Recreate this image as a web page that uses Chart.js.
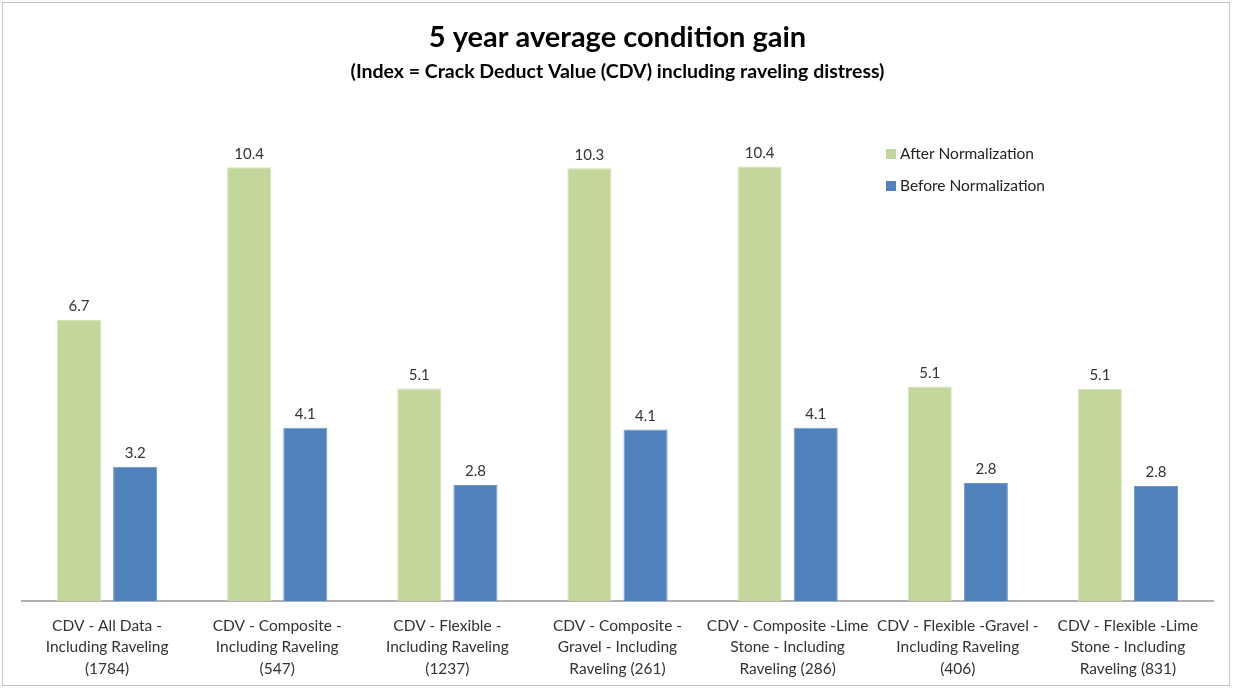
<!DOCTYPE html>
<html lang="en">
<head>
    <meta charset="UTF-8">
    <script src="https://cdn.jsdelivr.net/npm/chart.js"></script>
    <title>5 year average condition gain</title>
    <style>
        body {
            margin: 0;
            padding: 0;
            background-color: #fff;
        }
        #wrap {
            position: relative;
            width: 1233px;
            height: 689px;
        }
        #frame {
            position: absolute;
            left: 2px;
            top: 2px;
            width: 1226px;
            height: 682px;
            border: 1px solid #c4c4c4;
            pointer-events: none;
        }
    </style>
</head>
<body>
    <div id="wrap">
        <canvas id="gainChart" width="1233" height="689"></canvas>
        <div id="frame"></div>
    </div>

    <script>
        // categories (x axis labels, one array per line)
        const categories = [
            ['CDV - All Data -', 'Including Raveling', '(1784)'],
            ['CDV - Composite -', 'Including Raveling', '(547)'],
            ['CDV - Flexible -', 'Including Raveling', '(1237)'],
            ['CDV - Composite -', 'Gravel - Including', 'Raveling (261)'],
            ['CDV - Composite -Lime', 'Stone - Including', 'Raveling (286)'],
            ['CDV - Flexible -Gravel -', 'Including Raveling', '(406)'],
            ['CDV - Flexible -Lime', 'Stone - Including', 'Raveling (831)']
        ];
        const afterNormalization = [6.72, 10.37, 5.08, 10.35, 10.39, 5.13, 5.07];
        const beforeNormalization = [3.21, 4.14, 2.77, 4.10, 4.14, 2.82, 2.75];

        const FONT = 'Lato, "Open Sans", sans-serif';

        // valeurs au-dessus des barres
        const barLabels = {
            id: 'barLabels',
            afterDatasetsDraw(chart) {
                const ctx = chart.ctx;
                ctx.save();
                ctx.font = '15px ' + FONT;
                ctx.fillStyle = '#333';
                ctx.textAlign = 'center';
                ctx.textBaseline = 'bottom';
                chart.data.datasets.forEach((ds, i) => {
                    chart.getDatasetMeta(i).data.forEach((bar, j) => {
                        ctx.fillText(ds.data[j].toFixed(1), bar.x, bar.y - 6);
                    });
                });
                ctx.restore();
            }
        };

        // legende dans la zone du graphique
        const innerLegend = {
            id: 'innerLegend',
            afterDraw(chart) {
                const ctx = chart.ctx;
                ctx.save();
                ctx.font = '15.5px ' + FONT;
                ctx.textBaseline = 'middle';
                chart.data.datasets.forEach((ds, i) => {
                    const y = 154 + i * 32;
                    ctx.fillStyle = ds.backgroundColor;
                    ctx.fillRect(886, y - 5, 10, 10);
                    ctx.fillStyle = '#222';
                    ctx.fillText(ds.label, 900, y);
                });
                ctx.restore();
            }
        };

        new Chart(document.getElementById('gainChart'), {
            type: 'bar',
            data: {
                labels: categories,
                datasets: [{
                    label: 'After Normalization',
                    data: afterNormalization,
                    backgroundColor: '#c3d69b',
                    borderColor: '#d4e3b5',
                    borderWidth: 1
                }, {
                    label: 'Before Normalization',
                    data: beforeNormalization,
                    backgroundColor: '#4f81bd',
                    borderColor: '#6f97c8',
                    borderWidth: 1
                }]
            },
            options: {
                responsive: false,
                animation: false,
                categoryPercentage: 0.66,
                barPercentage: 0.785,
                layout: {
                    padding: { left: 22, right: 20, top: 0, bottom: -5 }
                },
                plugins: {
                    legend: { display: false },
                    tooltip: { enabled: false },
                    title: {
                        display: true,
                        text: '5 year average condition gain',
                        color: '#000',
                        font: { family: FONT, size: 29, weight: 'bold' },
                        padding: { top: 20, bottom: 5 }
                    },
                    subtitle: {
                        display: true,
                        text: '(Index = Crack Deduct Value (CDV) including raveling distress)',
                        color: '#000',
                        font: { family: FONT, size: 19.5, weight: 'bold' },
                        padding: { top: 0, bottom: 16 }
                    }
                },
                scales: {
                    x: {
                        grid: { display: false, drawTicks: false },
                        border: { display: true, color: '#b0b0b0', width: 2 },
                        ticks: {
                            color: '#333',
                            padding: 14,
                            maxRotation: 0,
                            autoSkip: false,
                            font: { family: FONT, size: 15.5, lineHeight: 1.4 }
                        }
                    },
                    y: {
                        display: false,
                        min: 0,
                        max: 12
                    }
                }
            },
            plugins: [barLabels, innerLegend]
        });
    </script>
</body>
</html>
